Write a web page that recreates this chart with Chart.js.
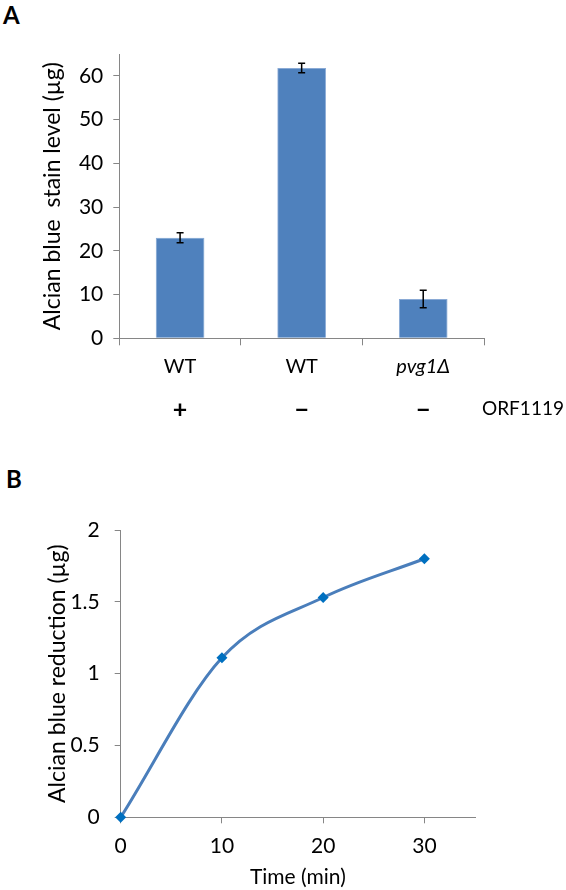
<!DOCTYPE html>
<html lang="en">
<head>
    <meta charset="UTF-8">
    <title>Alcian blue</title>
    <script src="https://cdn.jsdelivr.net/npm/chart.js"></script>
    <style>
        body {
            margin: 0;
            background: #fff;
            font-family: Lato, sans-serif;
        }
        .page {
            position: relative;
            width: 566px;
            height: 890px;
            overflow: hidden;
        }
        canvas {
            position: absolute;
            left: 0;
        }
        .panel {
            position: absolute;
            font-weight: bold;
            font-size: 24px;
            color: #000;
        }
        .orf {
            position: absolute;
            left: 482px;
            top: 396px;
            font-size: 19px;
            color: #000;
        }
    </style>
</head>
<body>
<div class="page">
    <div class="panel" style="left:3px; top:0px;">A</div>
    <div class="panel" style="left:6px; top:464px;">B</div>
    <canvas id="barChart" width="566" height="440" style="top:0;"></canvas>
    <div class="orf">ORF1119</div>
    <canvas id="lineChart" width="566" height="450" style="top:440px;"></canvas>
</div>

<script>
    // panel A
    const genotypes = ['WT', 'WT', 'pvg1\u0394'];
    const orfSigns = ['+', '\u2212', '\u2212'];
    const stainLevel = [23.0, 61.8, 9.0];
    const stainError = [1.15, 1.1, 2.0];
    const stainTicks = [0, 10, 20, 30, 40, 50, 60];

    // panel B
    const timeMin = [0, 10, 20, 30];
    const reduction = [0, 1.11, 1.53, 1.80];
    const timeTicks = [0, 10, 20, 30];
    const reductionTicks = [0, 0.5, 1, 1.5, 2];

    const axisGray = '#868686';
    const fam = 'Lato, sans-serif';

    Chart.defaults.plugins.legend.display = false;
    Chart.defaults.plugins.tooltip.enabled = false;
    Chart.defaults.color = '#000';
    Chart.defaults.font.family = fam;

    // error bars drawn from the dataset's own bar elements and y scale
    const errorBars = {
        id: 'errorBars',
        afterDatasetsDraw(chart) {
            const ctx = chart.ctx;
            const meta = chart.getDatasetMeta(0);
            const y = chart.scales.y;
            ctx.save();
            ctx.strokeStyle = '#000';
            ctx.lineWidth = 1.5;
            meta.data.forEach((bar, i) => {
                const top = y.getPixelForValue(stainLevel[i] + stainError[i]);
                const bot = y.getPixelForValue(stainLevel[i] - stainError[i]);
                ctx.beginPath();
                ctx.moveTo(bar.x, top); ctx.lineTo(bar.x, bot);
                ctx.moveTo(bar.x - 3.5, top); ctx.lineTo(bar.x + 3.5, top);
                ctx.moveTo(bar.x - 3.5, bot); ctx.lineTo(bar.x + 3.5, bot);
                ctx.stroke();
            });
            ctx.restore();
        }
    };

    function keepTicks(list) {
        return function (scale) {
            scale.ticks = list.map(v => ({ value: v }));
        };
    }

    const plainNumber = (v) => String(v);

    new Chart(document.getElementById('barChart'), {
        type: 'bar',
        data: {
            labels: genotypes,
            datasets: [{
                data: stainLevel,
                backgroundColor: '#4F81BD',
                borderColor: '#7FA3D3',
                borderWidth: 0.8,
                barPercentage: 0.4,
                categoryPercentage: 1.0
            }]
        },
        options: {
            responsive: false,
            animation: false,
            devicePixelRatio: 1,
            layout: { padding: { top: 54, right: 82, left: 0, bottom: 0 } },
            scales: {
                y: {
                    min: 0,
                    max: 65,
                    afterBuildTicks: keepTicks(stainTicks),
                    afterFit(scale) { scale.width = 119.3; },
                    border: { color: axisGray, width: 1 },
                    grid: { drawOnChartArea: false, drawTicks: true, tickLength: 6, color: axisGray },
                    ticks: { padding: 10, font: { size: 21, family: fam }, color: '#000', callback: plainNumber },
                    title: {
                        display: true,
                        text: 'Alcian blue  stain level (\u00b5g)',
                        font: { size: 23, family: fam },
                        padding: { top: 39, bottom: 0 },
                        color: '#000'
                    }
                },
                x: {
                    offset: true,
                    afterFit(scale) { scale.height = 50; },
                    border: { color: axisGray, width: 1 },
                    grid: { offset: true, drawOnChartArea: false, drawTicks: true, tickLength: 7, color: axisGray },
                    ticks: {
                        padding: 9,
                        color: '#000',
                        font: (c) => ({ size: 20, family: fam, style: c.index === 2 ? 'italic' : 'normal' })
                    }
                },
                x2: {
                    type: 'category',
                    labels: orfSigns,
                    position: 'bottom',
                    offset: true,
                    afterFit(scale) { scale.height = 51.7; },
                    border: { display: false },
                    grid: { display: false, drawTicks: false },
                    ticks: { padding: 7, color: '#000', font: { size: 25, weight: 'bold', family: fam } }
                }
            }
        },
        plugins: [errorBars]
    });

    new Chart(document.getElementById('lineChart'), {
        type: 'line',
        data: {
            datasets: [{
                data: timeMin.map((t, i) => ({ x: t, y: reduction[i] })),
                borderColor: '#4A7EBB',
                borderWidth: 3,
                cubicInterpolationMode: 'monotone',
                pointStyle: 'rectRot',
                pointRadius: 5.5,
                pointBackgroundColor: '#0070C0',
                pointBorderColor: '#0070C0',
                pointBorderWidth: 0,
                clip: false
            }]
        },
        options: {
            responsive: false,
            animation: false,
            devicePixelRatio: 1,
            layout: { padding: { top: 90, right: 91, left: 0, bottom: 0 } },
            scales: {
                x: {
                    type: 'linear',
                    min: 0,
                    max: 35,
                    afterBuildTicks: keepTicks(timeTicks),
                    afterFit(scale) { scale.height = 72.7; },
                    border: { color: axisGray, width: 1 },
                    grid: { drawOnChartArea: false, drawTicks: true, tickLength: 6, color: axisGray },
                    ticks: { padding: 10, font: { size: 21, family: fam }, color: '#000', callback: plainNumber },
                    title: {
                        display: true,
                        text: 'Time (min)',
                        font: { size: 21, family: fam },
                        padding: { top: 0, bottom: 0 },
                        color: '#000'
                    }
                },
                y: {
                    min: 0,
                    max: 2,
                    afterBuildTicks: keepTicks(reductionTicks),
                    afterFit(scale) { scale.width = 120.7; },
                    border: { color: axisGray, width: 1 },
                    grid: { drawOnChartArea: false, drawTicks: true, tickLength: 6, color: axisGray },
                    ticks: { padding: 15, font: { size: 21, family: fam }, color: '#000', callback: plainNumber },
                    title: {
                        display: true,
                        text: 'Alcian blue reduction (\u00b5g)',
                        font: { size: 23, family: fam },
                        padding: { top: 44, bottom: 0 },
                        color: '#000'
                    }
                }
            }
        }
    });
</script>
</body>
</html>
